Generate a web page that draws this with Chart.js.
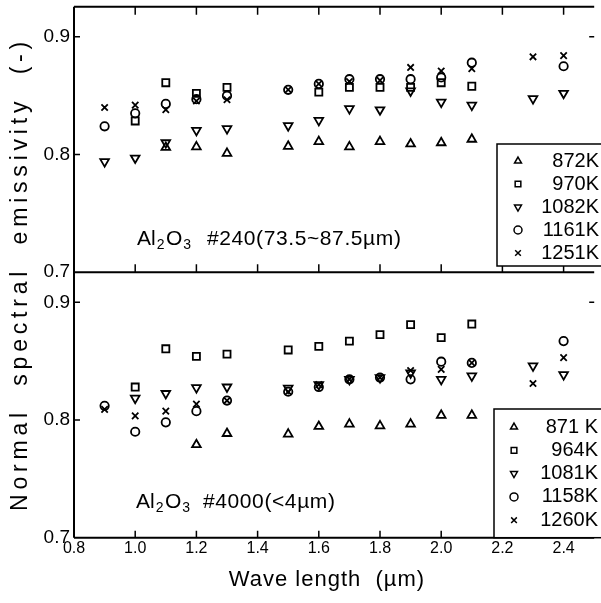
<!DOCTYPE html>
<html><head><meta charset="utf-8">
<script src="https://cdn.jsdelivr.net/npm/chart.js@4/dist/chart.umd.min.js"></script>
<style>html,body{margin:0;padding:0;background:#fff;}#wrap{width:601px;height:603px;position:relative;}</style>
</head><body><div id="wrap"><canvas id="c" width="601" height="603"></canvas></div>
<script>
// ---- tick labels ----
const xTicks = [0.8, 1.0, 1.2, 1.4, 1.6, 1.8, 2.0, 2.2, 2.4];
const yTicks = [0.7, 0.8, 0.9];

// ---- upper panel: Al2O3 #240 ----
const topLabels = ['872K', '970K', '1082K', '1161K', '1251K'];
const t872x = [1.1, 1.2, 1.3, 1.5, 1.6, 1.7, 1.8, 1.9, 2.0, 2.1];
const t872y = [0.806, 0.8065, 0.801, 0.807, 0.811, 0.8065, 0.811, 0.809, 0.810, 0.813];
const t970x = [1.0, 1.1, 1.2, 1.3, 1.6, 1.7, 1.8, 1.9, 2.0, 2.1];
const t970y = [0.8285, 0.861, 0.852, 0.857, 0.853, 0.857, 0.857, 0.857, 0.861, 0.858];
const t1082x = [0.9, 1.0, 1.1, 1.2, 1.3, 1.5, 1.6, 1.7, 1.8, 1.9, 2.0, 2.1, 2.3, 2.4];
const t1082y = [0.794, 0.797, 0.810, 0.8205, 0.822, 0.8245, 0.829, 0.839, 0.838, 0.854, 0.8445, 0.842, 0.8475, 0.852];
const t1161x = [0.9, 1.0, 1.1, 1.2, 1.3, 1.5, 1.6, 1.7, 1.8, 1.9, 2.0, 2.1, 2.4];
const t1161y = [0.824, 0.835, 0.843, 0.847, 0.850, 0.855, 0.860, 0.864, 0.864, 0.864, 0.8655, 0.878, 0.875];
const t1251x = [0.9, 1.0, 1.1, 1.2, 1.3, 1.5, 1.6, 1.7, 1.8, 1.9, 2.0, 2.1, 2.3, 2.4];
const t1251y = [0.840, 0.842, 0.838, 0.8455, 0.8465, 0.855, 0.860, 0.862, 0.863, 0.874, 0.871, 0.873, 0.883, 0.884];

// ---- lower panel: Al2O3 #4000 ----
const botLabels = ['871 K', '964K', '1081K', '1158K', '1260K'];
const b871x = [1.2, 1.3, 1.5, 1.6, 1.7, 1.8, 1.9, 2.0, 2.1];
const b871y = [0.779, 0.7885, 0.788, 0.7945, 0.7965, 0.795, 0.7965, 0.804, 0.804];
const b964x = [1.0, 1.1, 1.2, 1.3, 1.5, 1.6, 1.7, 1.8, 1.9, 2.0, 2.1];
const b964y = [0.828, 0.8605, 0.854, 0.856, 0.8595, 0.8625, 0.867, 0.8725, 0.881, 0.870, 0.8815];
const b1081x = [1.0, 1.1, 1.2, 1.3, 1.5, 1.6, 1.7, 1.8, 1.9, 2.0, 2.1, 2.3, 2.4];
const b1081y = [0.8185, 0.8225, 0.8275, 0.828, 0.827, 0.830, 0.8345, 0.836, 0.840, 0.8345, 0.8375, 0.846, 0.8385];
const b1158x = [0.9, 1.0, 1.1, 1.2, 1.3, 1.5, 1.6, 1.7, 1.8, 1.9, 2.0, 2.1, 2.4];
const b1158y = [0.812, 0.790, 0.798, 0.8075, 0.8165, 0.824, 0.828, 0.8345, 0.836, 0.8345, 0.8495, 0.8485, 0.867];
const b1260x = [0.9, 1.0, 1.1, 1.2, 1.3, 1.5, 1.6, 1.7, 1.8, 1.9, 2.0, 2.1, 2.3, 2.4];
const b1260y = [0.809, 0.8035, 0.8075, 0.8135, 0.8165, 0.824, 0.830, 0.8345, 0.836, 0.842, 0.843, 0.8485, 0.831, 0.853];

const FONT = '"Liberation Sans", Arial, sans-serif';
const styles = [
  {pointStyle: 'triangle', rotation: 0, radius: 5},
  {pointStyle: 'rect', rotation: 0, radius: 5},
  {pointStyle: 'triangle', rotation: 180, radius: 5},
  {pointStyle: 'circle', rotation: 0, radius: 4.2},
  {pointStyle: 'crossRot', rotation: 0, radius: 4.5}
];

function series(label, xs, ys, st, axis) {
  return {
    label, yAxisID: axis,
    data: xs.map((x, i) => ({x: x, y: ys[i]})),
    pointStyle: st.pointStyle, rotation: st.rotation,
    pointRadius: st.radius, pointHoverRadius: st.radius,
    pointBorderColor: '#000', pointBackgroundColor: 'rgba(0,0,0,0)',
    pointBorderWidth: 1.8, showLine: false
  };
}

const datasets = [
  series(topLabels[0], t872x, t872y, styles[0], 'yTop'),
  series(topLabels[1], t970x, t970y, styles[1], 'yTop'),
  series(topLabels[2], t1082x, t1082y, styles[2], 'yTop'),
  series(topLabels[3], t1161x, t1161y, styles[3], 'yTop'),
  series(topLabels[4], t1251x, t1251y, styles[4], 'yTop'),
  series(botLabels[0], b871x, b871y, styles[0], 'yBot'),
  series(botLabels[1], b964x, b964y, styles[1], 'yBot'),
  series(botLabels[2], b1081x, b1081y, styles[2], 'yBot'),
  series(botLabels[3], b1158x, b1158y, styles[3], 'yBot'),
  series(botLabels[4], b1260x, b1260y, styles[4], 'yBot')
];

function yScale() {
  return {
    type: 'linear', position: 'left', stack: 'panels', stackWeight: 1,
    min: 0.7, max: 0.9255,
    grid: {display: false, drawTicks: false}, border: {display: false},
    ticks: {color: '#000', font: {family: FONT, size: 19}, padding: 4,
            callback: v => v.toFixed(1)},
    afterBuildTicks: s => { s.ticks = yTicks.map(v => ({value: v})); },
    afterFit: s => { s.width = 74; s.paddingTop = 0; s.paddingBottom = 0; }
  };
}

function drawMarker(ctx, st, x, y, r) {
  ctx.fillStyle = 'rgba(0,0,0,0)';
  if (Chart.helpers && Chart.helpers.drawPoint) {
    Chart.helpers.drawPoint(ctx, {pointStyle: st.pointStyle, rotation: st.rotation, radius: r, borderWidth: 1.5}, x, y);
  }
}

function drawFormula(ctx, x, y, tailX, tail) {
  ctx.textAlign = 'left'; ctx.textBaseline = 'alphabetic'; ctx.fillStyle = '#000';
  ctx.font = '21px ' + FONT; ctx.fillText('Al', x, y); x += ctx.measureText('Al').width + 1;
  ctx.font = '14px ' + FONT; ctx.fillText('2', x, y + 4); x += ctx.measureText('2').width + 1.5;
  ctx.font = '21px ' + FONT; ctx.fillText('O', x, y); x += ctx.measureText('O').width + 1;
  ctx.font = '14px ' + FONT; ctx.fillText('3', x, y + 4);
  ctx.font = '21px ' + FONT;
  if ('letterSpacing' in ctx) ctx.letterSpacing = '0.6px';
  ctx.fillText(tail, tailX, y);
  if ('letterSpacing' in ctx) ctx.letterSpacing = '0px';
}

const decor = {
  id: 'decor',
  afterDraw(chart) {
    const ctx = chart.ctx, ca = chart.chartArea;
    const x = chart.scales.x, yT = chart.scales.yTop, yB = chart.scales.yBot;
    const mid = yT.bottom;
    ctx.save();
    ctx.strokeStyle = '#000'; ctx.lineWidth = 2;
    ctx.beginPath();
    ctx.moveTo(ca.left, ca.top); ctx.lineTo(ca.left, ca.bottom);
    [ca.top, mid, ca.bottom].forEach(y => { ctx.moveTo(ca.left, y); ctx.lineTo(ca.right, y); });
    ctx.stroke();
    ctx.lineWidth = 1.5;
    ctx.beginPath();
    xTicks.forEach(v => {
      if (v <= 0.8) return;
      const px = x.getPixelForValue(v);
      ctx.moveTo(px, ca.bottom); ctx.lineTo(px, ca.bottom - 7);
      ctx.moveTo(px, mid); ctx.lineTo(px, mid - 8);
      ctx.moveTo(px, ca.top); ctx.lineTo(px, ca.top + 8);
    });
    [yT, yB].forEach(s => {
      [0.8, 0.9].forEach(v => { const py = s.getPixelForValue(v); ctx.moveTo(ca.left, py); ctx.lineTo(ca.left + 6, py); });
      const p9 = s.getPixelForValue(0.9); ctx.moveTo(ca.right, p9); ctx.lineTo(ca.right - 5, p9);
    });
    ctx.stroke();

    // legends
    const legends = [
      {bx: 497, by: 144, bh: 122, labels: topLabels, mx: 518, tx: 599, y0: 161, dy: 23},
      {bx: 494, by: 409, bh: ca.bottom - 409, labels: botLabels, mx: 514, tx: 598, y0: 427, dy: 23.3}
    ];
    legends.forEach(L => {
      ctx.fillStyle = '#fff'; ctx.fillRect(L.bx, L.by, 120, L.bh);
      ctx.strokeStyle = '#000'; ctx.lineWidth = 1.5; ctx.strokeRect(L.bx, L.by, 120, L.bh);
      L.labels.forEach((lab, i) => {
        const y = L.y0 + i * L.dy;
        ctx.strokeStyle = '#000'; ctx.lineWidth = 1.5;
        drawMarker(ctx, styles[i], L.mx, y, 4);
        ctx.fillStyle = '#000'; ctx.font = '20px ' + FONT;
        ctx.textAlign = 'right'; ctx.textBaseline = 'middle';
        ctx.fillText(lab, L.tx, y);
      });
    });

    // panel annotations
    drawFormula(ctx, 137, 245, 207, '#240(73.5~87.5µm)');
    drawFormula(ctx, 136, 508, 203, '#4000(<4µm)');

    // axis titles
    ctx.fillStyle = '#000';
    ctx.save();
    ctx.translate(21, 274); ctx.rotate(-Math.PI / 2);
    ctx.textAlign = 'center'; ctx.textBaseline = 'middle';
    ctx.font = '23px ' + FONT;
    if ('letterSpacing' in ctx) ctx.letterSpacing = '4.8px';
    ctx.fillText('Normal  spectral  emissivity  (-)', 0, 0);
    ctx.restore();
    ctx.textAlign = 'center'; ctx.textBaseline = 'middle';
    ctx.font = '22px ' + FONT;
    if ('letterSpacing' in ctx) ctx.letterSpacing = '1px';
    ctx.fillText('Wave length  (µm)', 327, 580);
    if ('letterSpacing' in ctx) ctx.letterSpacing = '0px';
    ctx.restore();
  }
};

new Chart(document.getElementById('c'), {
  type: 'scatter',
  data: {datasets},
  plugins: [decor],
  options: {
    responsive: false, animation: false, devicePixelRatio: 1,
    layout: {padding: {top: 6, right: 0, left: 0, bottom: 0}},
    plugins: {legend: {display: false}, tooltip: {enabled: false}},
    scales: {
      x: {
        type: 'linear', position: 'bottom', min: 0.8, max: 2.5,
        grid: {display: false, drawTicks: false}, border: {display: false},
        ticks: {color: '#000', font: {family: FONT, size: 16}, padding: 1, maxRotation: 0, autoSkip: false,
                callback: v => v.toFixed(1)},
        afterBuildTicks: s => { s.ticks = xTicks.map(v => ({value: v})); },
        afterFit: s => { s.height = 65.3; s.paddingLeft = 0; s.paddingRight = 0; }
      },
      yBot: yScale(),
      yTop: yScale()
    }
  }
});
</script></body></html>
